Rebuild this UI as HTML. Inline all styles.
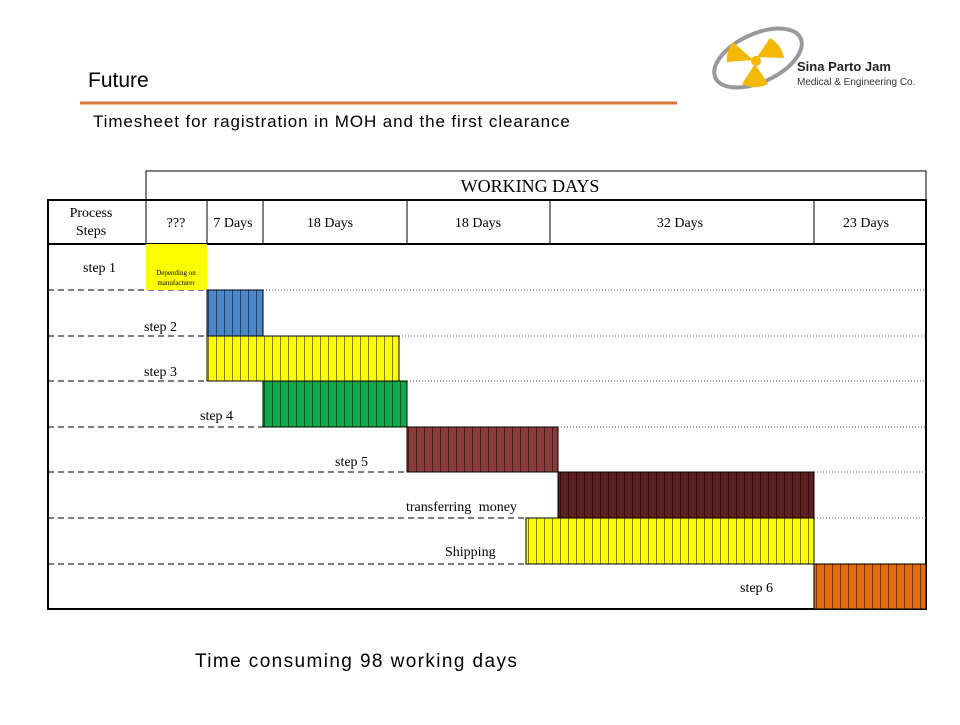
<!DOCTYPE html>
<html><head><meta charset="utf-8"><style>
body{margin:0;background:#fff;width:960px;height:720px;overflow:hidden;font-family:"Liberation Sans",sans-serif}
</style></head><body>
<svg width="960" height="720" xmlns="http://www.w3.org/2000/svg">
<defs>
<pattern id="p" width="8" height="50" patternUnits="userSpaceOnUse"><line x1="0" y1="0" x2="0" y2="50" stroke="#000" stroke-width="1"/></pattern>
</defs>
<text x="88" y="87" font-family="Liberation Sans" font-size="21" fill="#000">Future</text>
<line x1="80" y1="103" x2="677" y2="103" stroke="#d9733a" stroke-width="3"/>
<text x="93" y="127" font-family="Liberation Sans" font-size="17" letter-spacing="0.9" fill="#000">Timesheet for ragistration in MOH and the first clearance</text>
<!-- logo -->
<ellipse cx="758" cy="58" rx="47" ry="24" fill="none" stroke="#999" stroke-width="4" transform="rotate(-25 758 58)"/>
<g fill="#f4b800">
<path d="M753,60 L733,42 A28,28 0 0 0 727,62 Z"/>
<path d="M757,57 L770,38 A28,28 0 0 1 784,58 Z"/>
<path d="M755,64 L742,84 A28,28 0 0 0 768,84 Z"/>
<circle cx="756" cy="61" r="5"/>
</g>
<text x="797" y="71" font-family="Liberation Sans" font-size="13" font-weight="bold" fill="#222">Sina Parto Jam</text>
<text x="797" y="85" font-family="Liberation Sans" font-size="10" fill="#333">Medical &amp; Engineering Co.</text>
<!-- table -->
<g font-family="Liberation Serif" fill="#000">
<rect x="146" y="171" width="780" height="29" fill="none" stroke="#000" stroke-width="1"/>
<text x="530" y="192" font-size="18" text-anchor="middle">WORKING  DAYS</text>
<rect x="48" y="200" width="878" height="409" fill="none" stroke="#000" stroke-width="2"/>
<line x1="48" y1="244" x2="926" y2="244" stroke="#000" stroke-width="2"/>
<g stroke="#000" stroke-width="1">
<line x1="146" y1="200" x2="146" y2="244"/><line x1="207" y1="200" x2="207" y2="244"/>
<line x1="263" y1="200" x2="263" y2="244"/><line x1="407" y1="200" x2="407" y2="244"/>
<line x1="550" y1="200" x2="550" y2="244"/><line x1="814" y1="200" x2="814" y2="244"/>
</g>
<text x="91" y="217" font-size="14" text-anchor="middle">Process</text>
<text x="91" y="235" font-size="14" text-anchor="middle">Steps</text>
<g font-size="14" text-anchor="middle">
<text x="176" y="227">???</text><text x="233" y="227">7 Days</text><text x="330" y="227">18 Days</text>
<text x="478" y="227">18 Days</text><text x="680" y="227">32 Days</text><text x="866" y="227">23 Days</text>
</g>
<!-- row lines -->
<g stroke="#000" stroke-width="1" stroke-dasharray="6,4">
<line x1="48" y1="290" x2="207" y2="290"/><line x1="48" y1="336" x2="207" y2="336"/>
<line x1="48" y1="381" x2="207" y2="381"/><line x1="48" y1="427" x2="263" y2="427"/>
<line x1="48" y1="472" x2="407" y2="472"/><line x1="48" y1="518" x2="526" y2="518"/>
<line x1="48" y1="564" x2="526" y2="564"/>
</g>
<g stroke="#555" stroke-width="1" stroke-dasharray="1,2">
<line x1="263" y1="290" x2="926" y2="290"/><line x1="399" y1="336" x2="926" y2="336"/>
<line x1="407" y1="381" x2="926" y2="381"/><line x1="558" y1="427" x2="926" y2="427"/>
<line x1="814" y1="472" x2="926" y2="472"/><line x1="814" y1="518" x2="926" y2="518"/>
</g>
<!-- bars -->
<rect x="146" y="244" width="61" height="46" fill="#ffff00"/>
<text x="176" y="275" font-size="7" text-anchor="middle">Depending on</text>
<text x="176" y="285" font-size="7" text-anchor="middle">manufacturer</text>
<g stroke="#000" stroke-width="1">
<rect x="207" y="290" width="56" height="46" fill="#4a86c8"/>
<rect x="207" y="336" width="192" height="45" fill="#ffff00"/>
<rect x="263" y="381" width="144" height="46" fill="#0fa84a"/>
<rect x="407" y="427" width="151" height="45" fill="#8b3a3a"/>
<rect x="558" y="472" width="256" height="46" fill="#5c1f22"/>
<rect x="526" y="518" width="288" height="46" fill="#ffff00"/>
<rect x="814" y="564" width="112" height="45" fill="#e46c0a"/>
</g>
<rect x="207" y="290" width="56" height="46" fill="url(#p)"/>
<rect x="207" y="336" width="192" height="45" fill="url(#p)"/>
<rect x="263" y="381" width="144" height="46" fill="url(#p)"/>
<rect x="407" y="427" width="151" height="45" fill="url(#p)"/>
<rect x="558" y="472" width="256" height="46" fill="url(#p)"/>
<rect x="526" y="518" width="288" height="46" fill="url(#p)"/>
<rect x="814" y="564" width="112" height="45" fill="url(#p)"/>
<g font-size="14">
<text x="83" y="272">step 1</text><text x="144" y="331">step 2</text><text x="144" y="376">step 3</text>
<text x="200" y="420">step 4</text><text x="335" y="466">step 5</text>
<text x="406" y="511" word-spacing="4">transferring money</text><text x="445" y="556">Shipping</text>
<text x="740" y="592">step 6</text>
</g>
</g>
<text x="195" y="667" font-family="Liberation Sans" font-size="19" letter-spacing="1.4" fill="#000">Time consuming 98 working days</text>
</svg>
</body></html>
